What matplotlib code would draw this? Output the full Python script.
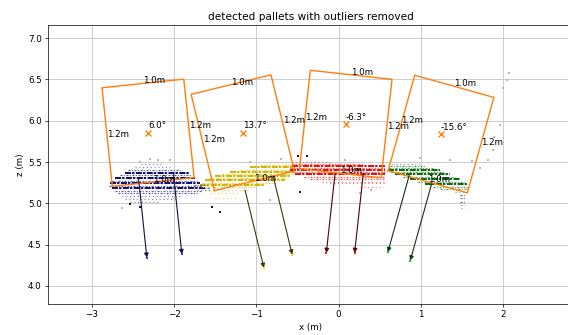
import numpy as np
import matplotlib
matplotlib.use("Agg")
import matplotlib.pyplot as plt

# ---------------------------------------------------------------------------
# Detected pallets: centre (x, z) in metres, yaw in degrees, nominal footprint
# ---------------------------------------------------------------------------
pallet_x = [-2.318, -1.166, 0.087, 1.246]
pallet_z = [5.855, 5.855, 5.960, 5.839]
pallet_angle_deg = [6.0, 13.7, -6.3, -15.6]
pallet_width = 1.0   # along the front face
pallet_depth = 1.2

# Fork-pocket start points (two per pallet) and approach-vector length
pocket_x = [[-2.434, -2.008], [-1.138, -0.794], [-0.043, 0.301], [0.860, 1.133]]
pocket_z = [[5.305, 5.348], [5.160, 5.321], [5.362, 5.362], [5.342, 5.241]]
arrow_length = 0.97

# Per-pallet colours: point cloud, approach arrow, arrow tip
cloud_colors = ["#12127a", "#d2b600", "#e01212", "#0d6a0d"]
arrow_colors = ["#141440", "#3c3a10", "#4a0c0c", "#123a12"]
tip_colors = ["#2a3cff", "#ffe000", "#ff1414", "#14c014"]

# Inlier scan rows of each pallet front: (z, x_start, x_end, density)
rows_pallet1 = [
    (5.475, -2.400, -2.150, "sparse"),
    (5.440, -2.477, -2.050, "sparse"),
    (5.405, -2.562, -1.929, "medium"),
    (5.372, -2.598, -1.808, "dense"),
    (5.340, -2.660, -1.780, "medium"),
    (5.310, -2.720, -1.747, "dense"),
    (5.275, -2.760, -1.720, "medium"),
    (5.245, -2.781, -1.686, "dense"),
    (5.212, -2.790, -1.660, "medium"),
    (5.180, -2.756, -1.625, "dense"),
    (5.150, -2.720, -1.660, "medium"),
    (5.120, -2.683, -1.720, "medium"),
    (5.085, -2.640, -1.900, "sparse"),
    (5.055, -2.598, -1.990, "sparse"),
    (5.010, -2.537, -2.172, "sparse"),
]
rows_pallet2 = [
    (5.495, -0.834, -0.560, "sparse"),
    (5.465, -0.960, -0.530, "medium"),
    (5.435, -1.078, -0.530, "dense"),
    (5.405, -1.200, -0.530, "medium"),
    (5.385, -1.321, -0.530, "dense"),
    (5.355, -1.420, -0.560, "medium"),
    (5.335, -1.503, -0.591, "dense"),
    (5.305, -1.560, -0.620, "medium"),
    (5.278, -1.625, -0.652, "dense"),
    (5.250, -1.660, -0.760, "medium"),
    (5.225, -1.686, -0.895, "dense"),
    (5.195, -1.660, -1.000, "medium"),
    (5.165, -1.625, -1.078, "sparse"),
    (5.124, -1.564, -1.199, "sparse"),
    (5.070, -1.503, -1.260, "sparse"),
]
rows_pallet3 = [
    (5.500, -0.530, -0.104, "sparse"),
    (5.472, -0.567, 0.300, "medium"),
    (5.450, -0.567, 0.565, "dense"),
    (5.425, -0.591, 0.565, "medium"),
    (5.400, -0.591, 0.565, "dense"),
    (5.375, -0.560, 0.565, "medium"),
    (5.352, -0.530, 0.565, "dense"),
    (5.322, -0.420, 0.565, "medium"),
    (5.292, -0.348, 0.565, "medium"),
    (5.260, -0.200, 0.565, "sparse"),
    (5.240, -0.104, 0.565, "sparse"),
    (5.200, 0.260, 0.504, "sparse"),
]
rows_pallet4 = [
    (5.480, 0.650, 1.000, "sparse"),
    (5.455, 0.626, 1.051, "medium"),
    (5.425, 0.610, 1.150, "medium"),
    (5.400, 0.601, 1.234, "dense"),
    (5.375, 0.640, 1.300, "medium"),
    (5.350, 0.686, 1.356, "dense"),
    (5.320, 0.780, 1.420, "medium"),
    (5.292, 0.869, 1.477, "dense"),
    (5.262, 0.960, 1.530, "medium"),
    (5.232, 1.051, 1.574, "dense"),
    (5.200, 1.150, 1.590, "medium"),
    (5.172, 1.234, 1.598, "medium"),
    (5.135, 1.417, 1.574, "sparse"),
]
cloud_rows = [rows_pallet1, rows_pallet2, rows_pallet3, rows_pallet4]

# Dark, unassigned scan fragments between / below the pallets
dark_rows = [
    (5.220, -1.760, -1.601, "medium"),
    (5.190, -1.747, -1.580, "medium"),
    (5.160, -1.723, -1.564, "sparse"),
    (5.100, 1.477, 1.550, "medium"),
    (5.063, 1.477, 1.550, "medium"),
    (5.020, 1.477, 1.540, "medium"),
    (4.980, 1.485, 1.540, "sparse"),
    (4.942, 1.485, 1.540, "sparse"),
]

# Isolated leftover points
stray_dark_x = [-0.494, -0.384, -2.537, -1.443, -1.540, -0.470, -2.420]
stray_dark_z = [5.572, 5.572, 4.990, 4.893, 4.954, 5.136, 4.960]
stray_light_x = [-2.051, -2.416, -1.078, 0.078, 0.991, 1.356, 1.623, 1.818,
                 2.073, 2.049, 2.000, 1.964, 1.891, 1.879, -2.635, -0.834,
                 0.260, 1.720, -2.300, -2.200, -0.700, 0.400]
stray_light_z = [5.524, 5.499, 5.499, 5.524, 5.548, 5.524, 5.512, 5.524,
                 6.578, 6.493, 6.396, 5.948, 5.802, 5.645, 4.942, 5.039,
                 5.124, 5.427, 5.540, 5.520, 5.540, 5.160]

x_ticks = [-3, -2, -1, 0, 1, 2]
z_ticks = [4.0, 4.5, 5.0, 5.5, 6.0, 6.5, 7.0]

# ---------------------------------------------------------------------------
DPI = 63
fig = plt.figure(figsize=(568 / DPI, 335 / DPI), dpi=DPI)
ax = fig.add_axes([48 / 568, 1 - 304 / 335, 525.7 / 568, 279 / 335])
ax.set_xlim(-3.535, 2.86)
ax.set_ylim(3.78, 7.16)
ax.set_xticks(x_ticks)
ax.set_yticks(z_ticks)
ax.grid(True, color="#c8c8c8", lw=1.0)
ax.set_axisbelow(True)

row_styles = {
    "dense": dict(lw=2.3, ls=(0, (3.0, 0.5, 1.2, 0.7)), alpha=1.0),
    "medium": dict(lw=1.4, ls=(0, (1.6, 1.1, 0.8, 1.4)), alpha=0.7),
    "sparse": dict(lw=1.4, ls=(0, (0.9, 2.2)), alpha=0.55),
}


def draw_rows(rows, color):
    for z, x0, x1, density in rows:
        st = row_styles[density]
        ax.hlines(z, x0, x1, colors=color, linewidth=st["lw"],
                  linestyles=[st["ls"]], alpha=st["alpha"], zorder=2)


for rows, col in zip(cloud_rows, cloud_colors):
    draw_rows(rows, col)
draw_rows(dark_rows, "#222222")

ax.scatter(stray_dark_x, stray_dark_z, s=4, marker="s", color="#1a1a1a",
           lw=0, zorder=2)
ax.scatter(stray_light_x, stray_light_z, s=3, marker="s", color="#b8b8b8",
           lw=0, zorder=2)

for i in range(len(pallet_x)):
    cx, cz = pallet_x[i], pallet_z[i]
    th = np.deg2rad(pallet_angle_deg[i])
    u = 0.5 * pallet_width * np.array([np.cos(th), np.sin(th)])
    v = 0.5 * pallet_depth * np.array([-np.sin(th), np.cos(th)])
    c = np.array([cx, cz])
    corners = np.array([c - u - v, c + u - v, c + u + v, c - u + v, c - u - v])
    ax.plot(corners[:, 0], corners[:, 1], color="#ff7f0e", lw=1.6, zorder=3)
    ax.plot([cx], [cz], marker="x", color="#ff7f0e", ms=6, mew=1.5,
            ls="none", zorder=3)

    # approach vectors out of the front face
    normal = np.array([np.sin(th), -np.cos(th)])
    for px, pz in zip(pocket_x[i], pocket_z[i]):
        end = np.array([px, pz]) + arrow_length * normal
        ax.annotate("", xy=end, xytext=(px, pz),
                    arrowprops=dict(arrowstyle="-|>", color=arrow_colors[i],
                                    lw=1.3, mutation_scale=10,
                                    shrinkA=0, shrinkB=0),
                    zorder=4)
        ax.scatter([end[0]], [end[1]], s=7, marker="s", color=tip_colors[i],
                   lw=0, zorder=4)

    # edge dimension labels and yaw label
    wlab = f"{pallet_width:.1f}m"
    dlab = f"{pallet_depth:.1f}m"
    for pos, lab in [(c + v, wlab), (c - v, wlab), (c - u, dlab), (c + u, dlab)]:
        ax.text(pos[0], pos[1], lab, fontsize=10, color="black", zorder=5)
    ax.text(cx, cz + 0.055, f"{pallet_angle_deg[i]:.1f}°", fontsize=10,
            color="black", zorder=5)

ax.set_title("detected pallets with outliers removed")
ax.set_xlabel("x (m)")
ax.set_ylabel("z (m)")

fig.savefig("out.png", dpi=DPI)
